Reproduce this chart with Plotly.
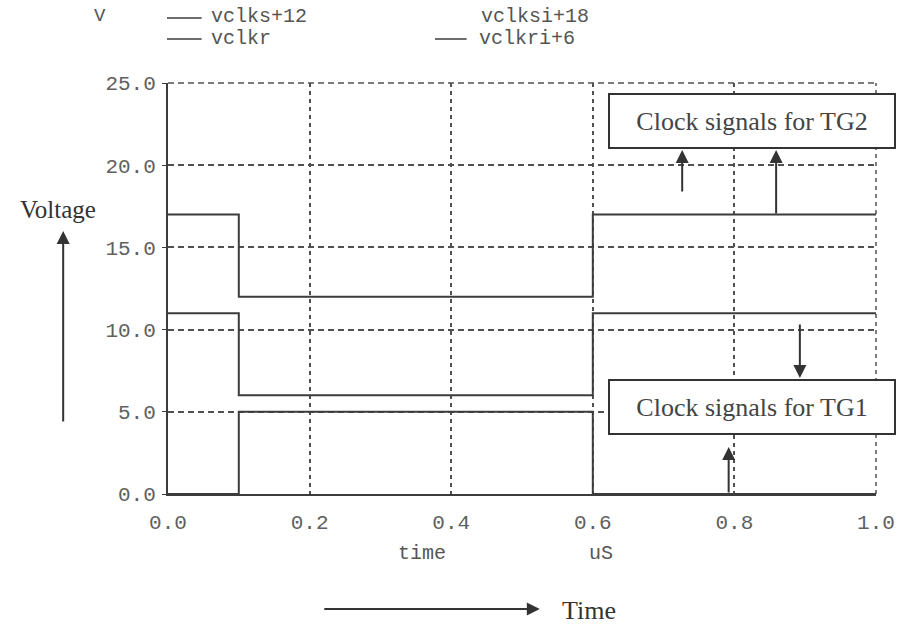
import plotly.graph_objects as go

# ---- data ----
time_us = [0.0, 0.1, 0.6, 1.0]
vclks_plus12 = [17, 12, 17, 17]
vclkri_plus6 = [11, 6, 11, 11]
vclkr = [0, 5, 0, 0]
legend_names = ["vclks+12", "vclkr", "vclksi+18", "vclkri+6"]
x_ticks = [0.0, 0.2, 0.4, 0.6, 0.8, 1.0]
y_ticks = [0, 5, 10, 15, 20, 25]

W, H = 907, 628
L, R, T, B = 168, 884, 83, 494

def px(x):
    return (x - L) / (R - L)

def py(y):
    return (B - y) / (B - T)

LINE = "#3c3c3c"
GRID = "#505050"
MONO = "Liberation Mono"
SERIF = "Liberation Serif"

fig = go.Figure()
for name, vals in [("vclks+12", vclks_plus12), ("vclkri+6", vclkri_plus6), ("vclkr", vclkr)]:
    fig.add_trace(go.Scatter(x=time_us, y=vals, mode="lines", name=name,
                             line=dict(shape="hv", color=LINE, width=2),
                             showlegend=False))

fig.update_layout(
    width=W, height=H,
    margin=dict(l=L, r=W - R, t=T, b=H - B, pad=0),
    paper_bgcolor="white", plot_bgcolor="white",
    showlegend=False,
    xaxis=dict(range=[0, 1], tickvals=x_ticks, ticktext=[f"{v:.1f}" for v in x_ticks],
               showgrid=True, gridcolor=GRID, gridwidth=1.5, griddash="4px,4px",
               showline=True, linecolor=LINE, linewidth=2, zeroline=False,
               ticks="", ticklabelstandoff=8,
               tickfont=dict(family=MONO, size=21, color="#606060")),
    yaxis=dict(range=[0, 25], tickvals=y_ticks, ticktext=[f"{v:.1f}" for v in y_ticks],
               showgrid=True, gridcolor=GRID, gridwidth=1.5, griddash="6px,4px",
               showline=True, linecolor=LINE, linewidth=2, zeroline=False,
               ticks="outside", ticklen=4, tickcolor=LINE, ticklabelstandoff=2,
               tickfont=dict(family=MONO, size=21, color="#606060")),
)

anns = []
shapes = []

# dashed frame on top and right (grid lines at the range edges)
shapes.append(dict(type="line", xref="paper", yref="paper", x0=0, x1=1, y0=1, y1=1,
                   line=dict(color=GRID, width=1.5, dash="6px,4px"), layer="below"))
shapes.append(dict(type="line", xref="paper", yref="paper", x0=1, x1=1, y0=0, y1=1,
                   line=dict(color=GRID, width=1.5, dash="4px,4px"), layer="below"))

def text(x, y, s, font, size, color="#555", xanchor="left"):
    anns.append(dict(xref="paper", yref="paper", x=px(x), y=py(y), text=s, showarrow=False,
                     xanchor=xanchor, yanchor="middle", borderpad=0,
                     font=dict(family=font, size=size, color=color)))

# legend (manual)
text(92, 16, "V", MONO, 19)
shapes.append(dict(type="line", xref="paper", yref="paper", x0=px(167), x1=px(202), y0=py(18), y1=py(18),
                   line=dict(color=LINE, width=1.5)))
text(210, 16, legend_names[0], MONO, 20)
shapes.append(dict(type="line", xref="paper", yref="paper", x0=px(167), x1=px(202), y0=py(39), y1=py(39),
                   line=dict(color=LINE, width=1.5)))
text(210, 38, legend_names[1], MONO, 20)
text(484, 16, legend_names[2], MONO, 20)
shapes.append(dict(type="line", xref="paper", yref="paper", x0=px(438), x1=px(470), y0=py(39), y1=py(39),
                   line=dict(color=LINE, width=1.5)))
text(481, 38, legend_names[3], MONO, 20)

# axis unit labels
text(425, 553, "time", MONO, 20, xanchor="center")
text(606, 553, "uS", MONO, 20, xanchor="center")

# Voltage / Time labels with arrows
text(57, 209, "Voltage", SERIF, 25, color="#333", xanchor="center")
text(565, 610, "Time", SERIF, 26, color="#333")

def arrow(x0, y0, x1, y1):
    # tail (x0,y0) -> head (x1,y1), pixel coordinates
    anns.append(dict(xref="paper", yref="paper", x=px(x1), y=py(y1), text="", showarrow=True,
                     ax=x0 - x1, ay=y0 - y1, arrowhead=2, arrowsize=1.3, arrowwidth=2,
                     arrowcolor="#333", standoff=0, startstandoff=0))

arrow(62, 423, 62, 231)
arrow(327, 609, 544, 609)

# boxes
for (cx, cy, s) in [(759, 121, "Clock signals for TG2"), (759, 407, "Clock signals for TG1")]:
    anns.append(dict(xref="paper", yref="paper", x=px(cx), y=py(cy), text=s, showarrow=False,
                     xanchor="center", yanchor="middle", width=284, height=52,
                     bgcolor="white", bordercolor="#333", borderwidth=2, borderpad=0,
                     font=dict(family=SERIF, size=26, color="#444")))

arrow(688, 193, 688, 150)
arrow(783, 215, 783, 150)
arrow(807, 323, 807, 378)
arrow(735, 494, 735, 447)

fig.update_layout(annotations=anns, shapes=shapes)
fig.write_html("out.html")
